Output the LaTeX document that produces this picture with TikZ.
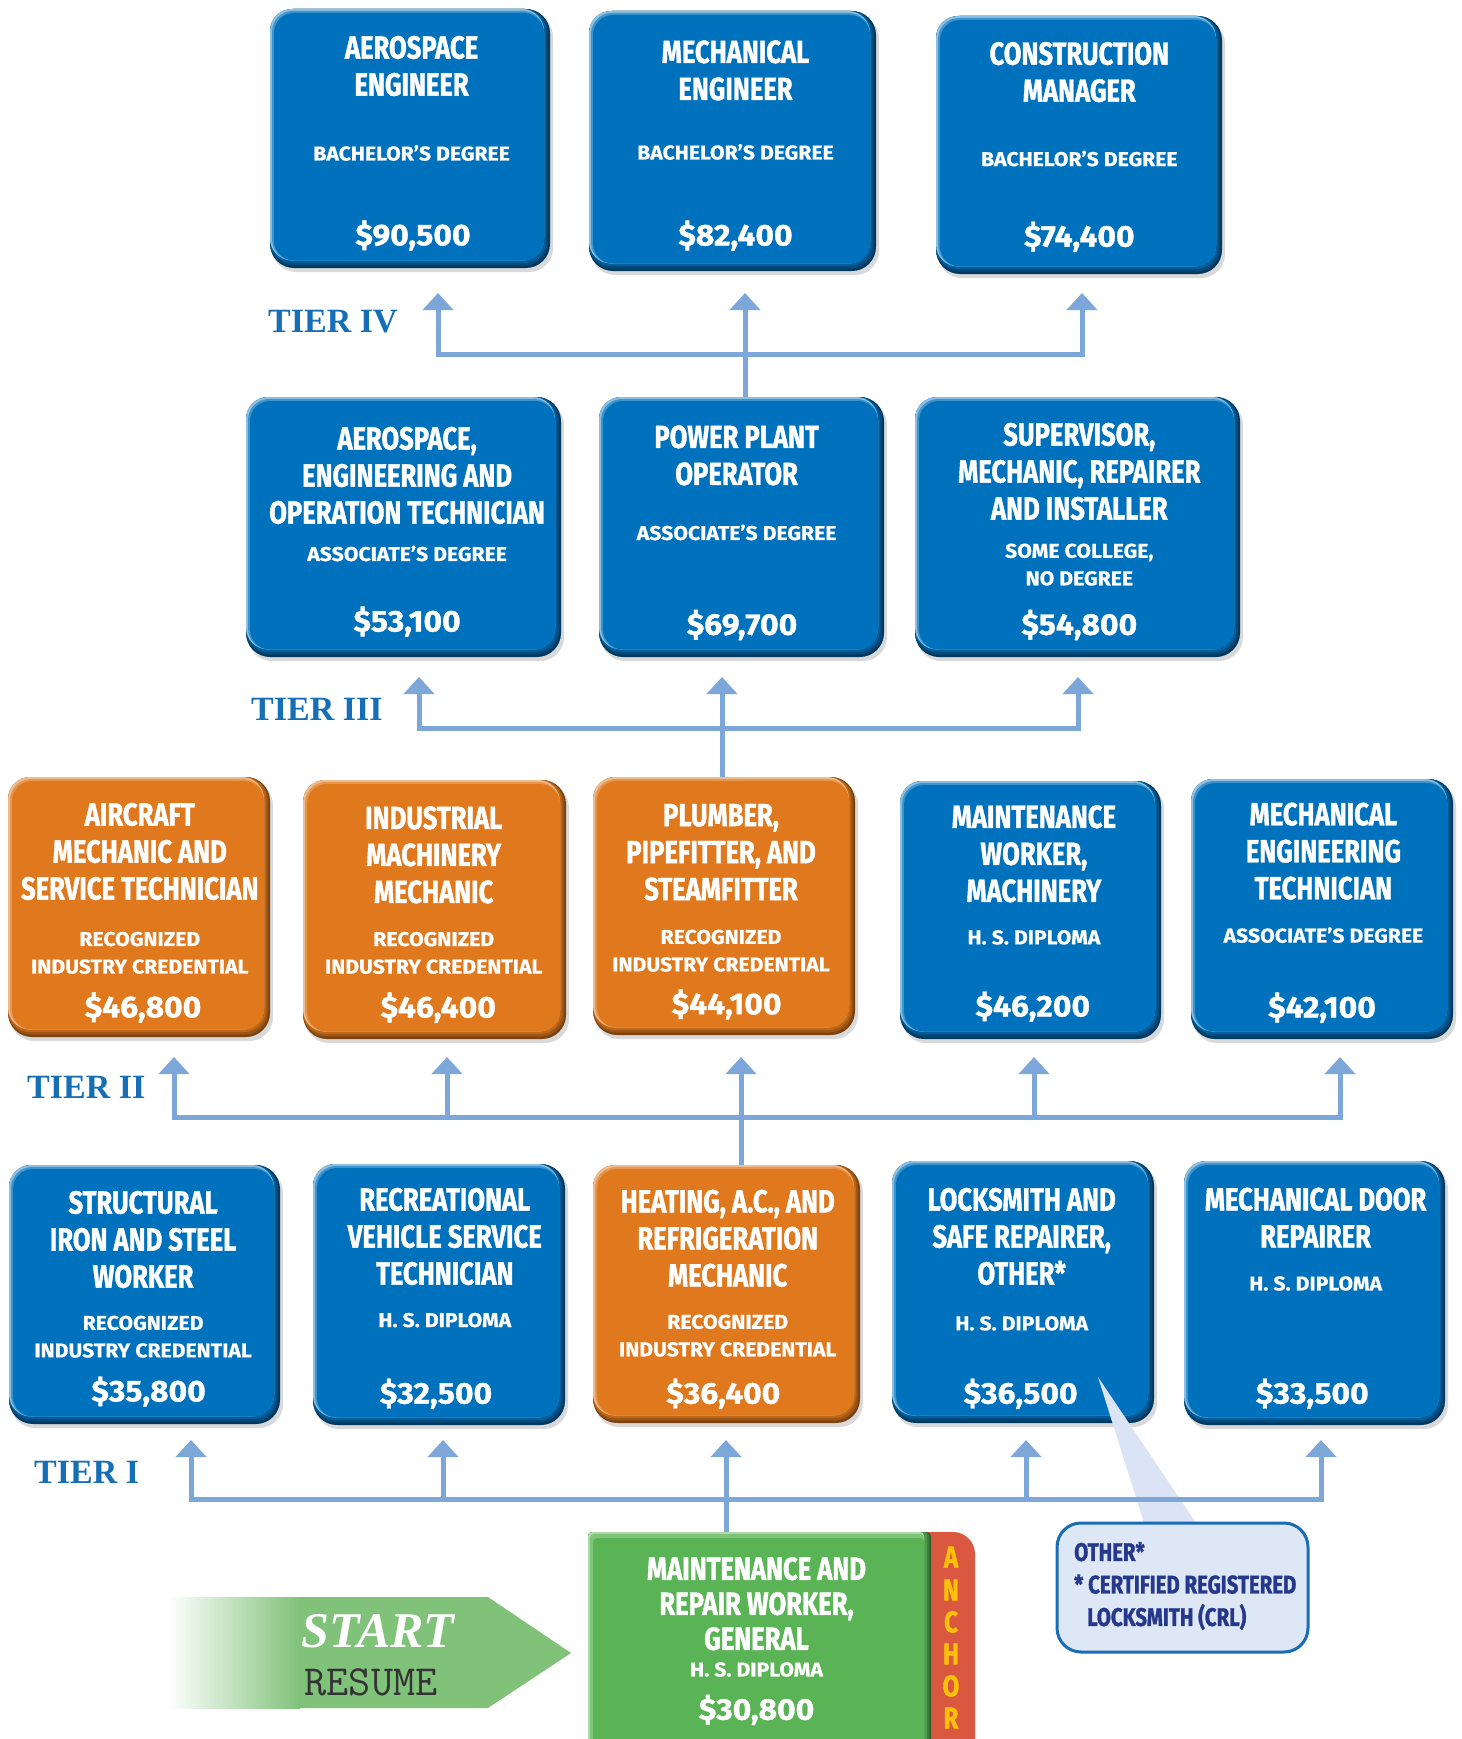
\documentclass[tikz,border=0pt]{standalone}
\usepackage{fontspec}
\setmainfont{Fira Sans}
\newfontfamily\condf{Fira Sans}[FakeStretch=0.80,FakeBold=1.2]
\newfontfamily\subf{Fira Sans}[FakeStretch=1.06,FakeBold=0.6]
\newfontfamily\pricef{Fira Sans}[FakeStretch=1.06,FakeBold=1.2]
\newfontfamily\tierf{Liberation Serif}
\usetikzlibrary{arrows.meta,fit}

\definecolor{bm}{RGB}{0,113,188}
\definecolor{om}{RGB}{224,121,30}
\definecolor{gm}{RGB}{90,180,85}
\colorlet{bmD1}{bm!50!black}\colorlet{bmD2}{bm!65!black}\colorlet{bmD3}{bm!82!black}
\colorlet{bmL1}{bm!45!white}\colorlet{bmL2}{bm!75!white}
\colorlet{omD1}{om!55!black}\colorlet{omD2}{om!70!black}\colorlet{omD3}{om!85!black}
\colorlet{omL1}{om!50!white}\colorlet{omL2}{om!78!white}
\colorlet{gmD1}{gm!55!black}\colorlet{gmD2}{gm!70!black}\colorlet{gmD3}{gm!85!black}
\colorlet{gmL1}{gm!50!white}\colorlet{gmL2}{gm!78!white}
\definecolor{arrc}{RGB}{126,167,217}
\definecolor{tierc}{RGB}{22,110,182}
\definecolor{redt}{RGB}{219,88,64}
\definecolor{ancl}{RGB}{255,192,10}
\definecolor{stg}{RGB}{128,194,122}
\definecolor{callf}{RGB}{222,231,245}
\definecolor{callb}{RGB}{24,108,184}
\definecolor{calt}{RGB}{38,56,140}
\definecolor{ptrf}{RGB}{218,228,244}

\tikzset{
  conn/.style={line width=5pt, draw=arrc},
  arr/.style={conn, -{Triangle[width=30pt,length=17pt]}},
  ttl/.style={text=white, align=center, inner sep=0,
    font=\condf\bfseries\fontsize{32}{37}\selectfont},
  subt/.style={text=white, align=center, inner sep=0,
    font=\subf\bfseries\fontsize{20}{27.5}\selectfont},
  price/.style={text=white, inner sep=0, text height=20.6pt, text depth=0pt,
    font=\pricef\bfseries\fontsize{30}{32}\selectfont},
  tierlab/.style={text=tierc, anchor=west, inner sep=0,
    font=\tierf\bfseries\fontsize{34}{36}\selectfont},
  anc/.style={text=ancl, inner sep=0, font=\condf\bfseries\fontsize{30}{30}\selectfont},
  frame/.style={inner sep=0, draw=none},
}

\newcommand\jbox[6]{%
  \fill[black,opacity=0.15,rounded corners=24pt] ({#3+2},{#4+4}) rectangle ({#5+3},{#6+4});
  \fill[#2D1,rounded corners=24pt] (#3,#4) rectangle (#5,#6);
  \fill[#2D2,rounded corners=23pt] (#3,#4) rectangle ({#5-2},{#6-2.5});
  \fill[#2D3,rounded corners=22pt] (#3,#4) rectangle ({#5-4},{#6-5});
  \fill[#2L1,rounded corners=22pt] (#3,#4) rectangle ({#5-6},{#6-7.5});
  \fill[#2L2,rounded corners=21pt] ({#3+2},{#4+2}) rectangle ({#5-6},{#6-7.5});
  \fill[#2,rounded corners=20pt] ({#3+4},{#4+4}) rectangle ({#5-6},{#6-7.5});
  \node[frame,fit={(#3,#4) (#5,#6)}] (#1) {};
}

\begin{document}
\begin{tikzpicture}[x=1pt,y=-1pt]
\useasboundingbox (0,0) rectangle (1461,1739);
\clip (0,0) rectangle (1461,1739);
\fill[white] (0,0) rectangle (1461,1739);

% ---------------- Tier IV
\jbox{ae}{bm}{270}{9}{550}{268}
\node[ttl] (aeT) at (411.6,66) {AEROSPACE\\ENGINEER};
\node[subt] (aeS) at (411.6,153) {BACHELOR’S DEGREE};
\node[price] (aeP) at (413,235) {\$90,500};

\jbox{me}{bm}{589}{11}{876}{271}
\node[ttl] (meT) at (735.5,70.4) {MECHANICAL\\ENGINEER};
\node[subt] (meS) at (735.5,152) {BACHELOR’S DEGREE};
\node[price] (meP) at (735.5,235.2) {\$82,400};

\jbox{cm}{bm}{936}{16}{1222}{274}
\node[ttl] (cmT) at (1079.3,72.1) {CONSTRUCTION\\MANAGER};
\node[subt] (cmS) at (1079.3,158.6) {BACHELOR’S DEGREE};
\node[price] (cmP) at (1079.3,236.3) {\$74,400};

% ---------------- Tier III
\jbox{aet}{bm}{246}{397}{561}{657}
\node[ttl] (aetT) at (407.1,475.5) {AEROSPACE,\\ENGINEERING AND\\OPERATION TECHNICIAN};
\node[subt] (aetS) at (407.1,553.5) {ASSOCIATE’S DEGREE};
\node[price] (aetP) at (407.1,621.2) {\$53,100};

\jbox{pp}{bm}{599}{397}{884}{657}
\node[ttl] (ppT) at (736.6,455.4) {POWER PLANT\\OPERATOR};
\node[subt] (ppS) at (736.6,532.5) {ASSOCIATE’S DEGREE};
\node[price] (ppP) at (742,624.5) {\$69,700};

\jbox{sup}{bm}{915}{397}{1240}{657}
\node[ttl] (supT) at (1079.3,471.5) {SUPERVISOR,\\MECHANIC, REPAIRER\\AND INSTALLER};
\node[subt] (supS) at (1079.3,564.6) {SOME COLLEGE,\\NO DEGREE};
\node[price] (supP) at (1079.3,624.5) {\$54,800};

% ---------------- Tier II
\jbox{air}{om}{8}{777}{270}{1037}
\node[ttl] (airT) at (139.8,851.5) {AIRCRAFT\\MECHANIC AND\\SERVICE TECHNICIAN};
\node[subt] (airS) at (139.8,952.8) {RECOGNIZED\\INDUSTRY CREDENTIAL};
\node[price] (airP) at (143,1007) {\$46,800};

\jbox{ind}{om}{303}{780}{566}{1039}
\node[ttl] (indT) at (433.7,854.9) {INDUSTRIAL\\MACHINERY\\MECHANIC};
\node[subt] (indS) at (433.7,952.9) {RECOGNIZED\\INDUSTRY CREDENTIAL};
\node[price] (indP) at (438.2,1007.2) {\$46,400};

\jbox{plu}{om}{593}{777}{855}{1035}
\node[ttl] (pluT) at (721,852.3) {PLUMBER,\\PIPEFITTER, AND\\STEAMFITTER};
\node[subt] (pluS) at (721,950.7) {RECOGNIZED\\INDUSTRY CREDENTIAL};
\node[price] (pluP) at (726.6,1003.9) {\$44,100};

\jbox{mwm}{bm}{900}{781}{1161}{1039}
\node[ttl] (mwmT) at (1033.9,853.8) {MAINTENANCE\\WORKER,\\MACHINERY};
\node[subt] (mwmS) at (1033.9,937.4) {H. S. DIPLOMA};
\node[price] (mwmP) at (1032.8,1006.1) {\$46,200};

\jbox{met}{bm}{1191}{779}{1453}{1039}
\node[ttl] (metT) at (1323.4,851.2) {MECHANICAL\\ENGINEERING\\TECHNICIAN};
\node[subt] (metS) at (1323.4,935.1) {ASSOCIATE’S DEGREE};
\node[price] (metP) at (1322,1007.2) {\$42,100};

% ---------------- Tier I
\jbox{str}{bm}{9}{1165}{280}{1424}
\node[ttl] (strT) at (143.1,1239.5) {STRUCTURAL\\IRON AND STEEL\\WORKER};
\node[subt] (strS) at (143.1,1336.7) {RECOGNIZED\\INDUSTRY CREDENTIAL};
\node[price] (strP) at (148.6,1391.1) {\$35,800};

\jbox{rec}{bm}{313}{1164}{565}{1425}
\node[ttl] (recT) at (444.8,1236.5) {RECREATIONAL\\VEHICLE SERVICE\\TECHNICIAN};
\node[subt] (recS) at (444.8,1320.1) {H. S. DIPLOMA};
\node[price] (recP) at (436,1393.3) {\$32,500};

\jbox{hea}{om}{593}{1165}{860}{1423}
\node[ttl] (heaT) at (727.7,1238.3) {HEATING, A.C., AND\\REFRIGERATION\\MECHANIC};
\node[subt] (heaS) at (727.7,1335.6) {RECOGNIZED\\INDUSTRY CREDENTIAL};
\node[price] (heaP) at (723.3,1393.3) {\$36,400};

\jbox{loc}{bm}{892}{1161}{1154}{1423}
\node[ttl] (locT) at (1021.7,1236.5) {LOCKSMITH AND\\SAFE REPAIRER,\\OTHER*};
\node[subt] (locS) at (1021.7,1323.4) {H. S. DIPLOMA};
\node[price] (locP) at (1020.6,1393.3) {\$36,500};

\jbox{mdr}{bm}{1184}{1161}{1445}{1425}
\node[ttl] (mdrT) at (1315.6,1217.5) {MECHANICAL DOOR\\REPAIRER};
\node[subt] (mdrS) at (1315.6,1283.5) {H. S. DIPLOMA};
\node[price] (mdrP) at (1312.3,1393.3) {\$33,500};

% ---------------- Anchor
\fill[redt,rounded corners=22pt] (900,1532) rectangle (975,1800);
\fill[gmD1,rounded corners=4pt] (588,1532) rectangle (931,1800);
\fill[gmD2,rounded corners=4pt] (588,1532) rectangle (929,1800);
\fill[gmD3,rounded corners=4pt] (588,1532) rectangle (927,1800);
\fill[gmL1,rounded corners=4pt] (588,1532) rectangle (924,1800);
\fill[gmL2,rounded corners=4pt] (590,1534) rectangle (924,1800);
\fill[gm,rounded corners=4pt] (593,1538) rectangle (924,1800);
\node[frame,fit={(588,1532) (975,1739)}] (anchor) {};
\node[ttl,font=\condf\bfseries\fontsize{32}{35}\selectfont] (ancT) at (756.5,1603.7) {MAINTENANCE AND\\REPAIR WORKER,\\GENERAL};
\node[subt] (ancS) at (756.5,1669.5) {H. S. DIPLOMA};
\node[price] (ancP) at (756.5,1709.4) {\$30,800};
\node[anc] (l1) at (951,1557) {A};
\node[anc] (l2) at (951,1590) {N};
\node[anc] (l3) at (951,1622) {C};
\node[anc] (l4) at (951,1654) {H};
\node[anc] (l5) at (951,1686) {O};
\node[anc] (l6) at (951,1718) {R};

% ---------------- Start arrow
\fill[stg] (169,1597) -- (488,1597) -- (571,1653) -- (488,1708) -- (169,1708) -- cycle;
\shade[left color=white, right color=stg] (168,1597) rectangle (300,1708);
\node[text=white, inner sep=0, font=\tierf\bfseries\itshape\fontsize{50}{50}\selectfont] (st) at (378,1631) {START};
\node[text=black!80, inner sep=0, font=\ttfamily\fontsize{43}{43}\selectfont] (rs) at (371,1682) {RESUME};

% ---------------- Tier labels
\node[tierlab] (t4) at (268,322) {TIER IV};
\node[tierlab] (t3) at (251,709) {TIER III};
\node[tierlab] (t2) at (27,1087) {TIER II};
\node[tierlab] (t1) at (34,1472) {TIER I};

% ---------------- Callout pointer (over box, under connector)
\fill[ptrf] (1098,1377) -- (1145,1526) -- (1198,1526) -- cycle;

% ---------------- Connectors
% Tier I
\coordinate (h1) at (726,1499);
\coordinate (a1) at (191,1440);
\coordinate (a2) at (443,1440);
\coordinate (a3) at (726,1440);
\coordinate (a4) at (1026,1440);
\coordinate (a5) at (1321,1440);
\draw[arr] (anchor.north -| h1) -- (a3);
\draw[arr] (h1) -| (a1);
\draw[arr] (h1) -| (a2);
\draw[arr] (h1) -| (a4);
\draw[arr] (h1) -| (a5);
% Tier II
\coordinate (h2) at (741,1117);
\coordinate (b1) at (174,1057);
\coordinate (b2) at (447,1057);
\coordinate (b3) at (741,1057);
\coordinate (b4) at (1034,1057);
\coordinate (b5) at (1340,1057);
\draw[arr] (hea.north -| h2) -- (b3);
\draw[arr] (h2) -| (b1);
\draw[arr] (h2) -| (b2);
\draw[arr] (h2) -| (b4);
\draw[arr] (h2) -| (b5);
% Tier III
\coordinate (h3) at (722,728);
\coordinate (c1) at (419,677);
\coordinate (c2) at (722,677);
\coordinate (c3) at (1078,677);
\draw[arr] (plu.north -| h3) -- (c2);
\draw[arr] (h3) -| (c1);
\draw[arr] (h3) -| (c3);
% Tier IV
\coordinate (h4) at (745,354);
\coordinate (d1) at (438,293);
\coordinate (d2) at (745,293);
\coordinate (d3) at (1082,293);
\draw[arr] (pp.north -| h4) -- (d2);
\draw[arr] (h4) -| (d1);
\draw[arr] (h4) -| (d3);

% ---------------- Callout
\node[frame, draw=callb, line width=3pt, fill=callf, rounded corners=24pt,
      fit={(1057,1523) (1308,1652)}] (co) {};
\node[anchor=west, align=left, inner sep=0, text=calt,
      font=\condf\bfseries\fontsize{25.5}{32.5}\selectfont] (coT) at (1074,1586)
      {OTHER*\\{*} CERTIFIED REGISTERED\\\hspace*{13pt}LOCKSMITH (CRL)};
\end{tikzpicture}
\end{document}
